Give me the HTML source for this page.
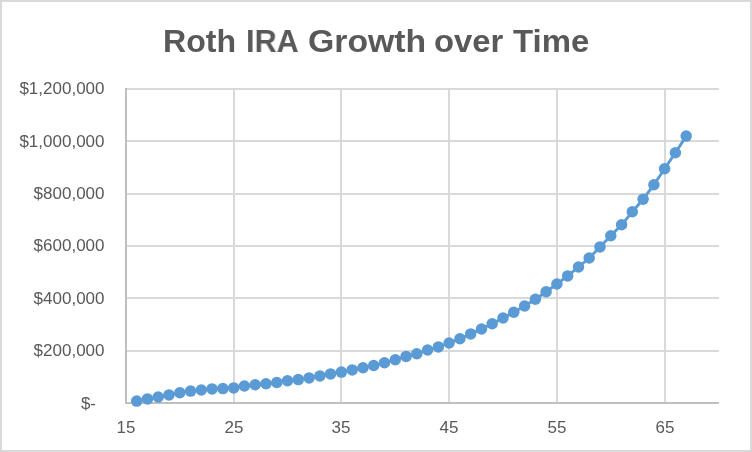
<!DOCTYPE html>
<html><head><meta charset="utf-8"><title>Roth IRA Growth over Time</title>
<style>
html,body{margin:0;padding:0;background:#fff;}
body{width:752px;height:452px;overflow:hidden;position:relative;font-family:"Liberation Sans",sans-serif;color:#595959;}
#frame{position:absolute;left:0;top:0;width:748px;height:448px;border:2px solid #d9d9d9;background:#fff;}
.tw{position:absolute;top:23.8px;font-weight:bold;font-size:31.3px;line-height:normal;color:#595959;white-space:nowrap;transform-origin:0 50%;will-change:transform;}
.yl,.xl{will-change:transform;}
.yl{position:absolute;left:0;width:104.5px;text-align:right;font-size:17px;line-height:20px;height:20px;white-space:nowrap;}
.xl{position:absolute;top:418px;width:40px;text-align:center;font-size:17px;line-height:20px;height:20px;}
svg{position:absolute;left:0;top:0;}
</style></head><body>
<div id="frame"></div>
<div class="tw" style="left:162.95px;transform:scaleX(1.025)">Roth</div>
<div class="tw" style="left:246.04px;transform:scaleX(0.978)">IRA</div>
<div class="tw" style="left:307.8px;transform:scaleX(1.079)">Growth</div>
<div class="tw" style="left:433.75px;transform:scaleX(1.049)">over</div>
<div class="tw" style="left:512.6px;transform:scaleX(1.052)">Time</div>
<svg width="752" height="452" viewBox="0 0 752 452">
<rect x="126" y="88" width="593" height="2" fill="#d9d9d9"/><rect x="126" y="140" width="593" height="2" fill="#d9d9d9"/><rect x="126" y="193" width="593" height="2" fill="#d9d9d9"/><rect x="126" y="245" width="593" height="2" fill="#d9d9d9"/><rect x="126" y="297" width="593" height="2" fill="#d9d9d9"/><rect x="126" y="350" width="593" height="2" fill="#d9d9d9"/><rect x="233" y="88" width="2" height="315" fill="#d9d9d9"/><rect x="340" y="88" width="2" height="315" fill="#d9d9d9"/><rect x="448" y="88" width="2" height="315" fill="#d9d9d9"/><rect x="556" y="88" width="2" height="315" fill="#d9d9d9"/><rect x="664" y="88" width="2" height="315" fill="#d9d9d9"/>
<rect x="125" y="88" width="2" height="316" fill="#bfbfbf"/>
<rect x="125" y="402" width="594" height="2" fill="#bfbfbf"/>
<polyline points="136.7,401.1 147.5,398.9 158.2,397.0 169.0,394.9 179.8,392.8 190.6,391.1 201.3,390.0 212.1,388.9 222.9,388.6 233.7,387.9 244.4,386.0 255.2,384.7 266.0,383.8 276.8,382.5 287.5,380.8 298.3,379.6 309.1,377.9 319.9,375.9 330.6,373.9 341.4,372.1 352.2,369.9 363.0,367.7 373.7,365.5 384.5,362.8 395.3,359.7 406.1,356.4 416.8,353.8 427.6,350.0 438.4,346.9 449.1,343.0 459.9,338.8 470.7,333.9 481.5,329.0 492.2,323.7 503.0,318.0 513.8,312.2 524.6,306.0 535.4,299.2 546.1,291.7 556.9,284.0 567.7,275.9 578.5,267.0 589.2,258.0 600.0,246.9 610.8,235.8 621.6,224.8 632.3,211.8 643.1,199.2 653.9,184.8 664.6,168.8 675.4,152.7 686.2,136.1" fill="none" stroke="#5b9bd5" stroke-width="2.9" stroke-linejoin="round" stroke-linecap="round"/>
<g fill="#5b9bd5"><circle cx="136.7" cy="401.1" r="5.75"/><circle cx="147.5" cy="398.9" r="5.75"/><circle cx="158.2" cy="397.0" r="5.75"/><circle cx="169.0" cy="394.9" r="5.75"/><circle cx="179.8" cy="392.8" r="5.75"/><circle cx="190.6" cy="391.1" r="5.75"/><circle cx="201.3" cy="390.0" r="5.75"/><circle cx="212.1" cy="388.9" r="5.75"/><circle cx="222.9" cy="388.6" r="5.75"/><circle cx="233.7" cy="387.9" r="5.75"/><circle cx="244.4" cy="386.0" r="5.75"/><circle cx="255.2" cy="384.7" r="5.75"/><circle cx="266.0" cy="383.8" r="5.75"/><circle cx="276.8" cy="382.5" r="5.75"/><circle cx="287.5" cy="380.8" r="5.75"/><circle cx="298.3" cy="379.6" r="5.75"/><circle cx="309.1" cy="377.9" r="5.75"/><circle cx="319.9" cy="375.9" r="5.75"/><circle cx="330.6" cy="373.9" r="5.75"/><circle cx="341.4" cy="372.1" r="5.75"/><circle cx="352.2" cy="369.9" r="5.75"/><circle cx="363.0" cy="367.7" r="5.75"/><circle cx="373.7" cy="365.5" r="5.75"/><circle cx="384.5" cy="362.8" r="5.75"/><circle cx="395.3" cy="359.7" r="5.75"/><circle cx="406.1" cy="356.4" r="5.75"/><circle cx="416.8" cy="353.8" r="5.75"/><circle cx="427.6" cy="350.0" r="5.75"/><circle cx="438.4" cy="346.9" r="5.75"/><circle cx="449.1" cy="343.0" r="5.75"/><circle cx="459.9" cy="338.8" r="5.75"/><circle cx="470.7" cy="333.9" r="5.75"/><circle cx="481.5" cy="329.0" r="5.75"/><circle cx="492.2" cy="323.7" r="5.75"/><circle cx="503.0" cy="318.0" r="5.75"/><circle cx="513.8" cy="312.2" r="5.75"/><circle cx="524.6" cy="306.0" r="5.75"/><circle cx="535.4" cy="299.2" r="5.75"/><circle cx="546.1" cy="291.7" r="5.75"/><circle cx="556.9" cy="284.0" r="5.75"/><circle cx="567.7" cy="275.9" r="5.75"/><circle cx="578.5" cy="267.0" r="5.75"/><circle cx="589.2" cy="258.0" r="5.75"/><circle cx="600.0" cy="246.9" r="5.75"/><circle cx="610.8" cy="235.8" r="5.75"/><circle cx="621.6" cy="224.8" r="5.75"/><circle cx="632.3" cy="211.8" r="5.75"/><circle cx="643.1" cy="199.2" r="5.75"/><circle cx="653.9" cy="184.8" r="5.75"/><circle cx="664.6" cy="168.8" r="5.75"/><circle cx="675.4" cy="152.7" r="5.75"/><circle cx="686.2" cy="136.1" r="5.75"/></g>
</svg>
<div class="yl" style="top:79px">$1,200,000</div><div class="yl" style="top:132px">$1,000,000</div><div class="yl" style="top:184px">$800,000</div><div class="yl" style="top:236px">$600,000</div><div class="yl" style="top:289px">$400,000</div><div class="yl" style="top:341px">$200,000</div>
<div class="yl" style="top:393.5px;width:96px">$-</div>
<div class="xl" style="left:105.9px">15</div><div class="xl" style="left:213.7px">25</div><div class="xl" style="left:321.4px">35</div><div class="xl" style="left:429.1px">45</div><div class="xl" style="left:536.9px">55</div><div class="xl" style="left:644.6px">65</div>
</body></html>
